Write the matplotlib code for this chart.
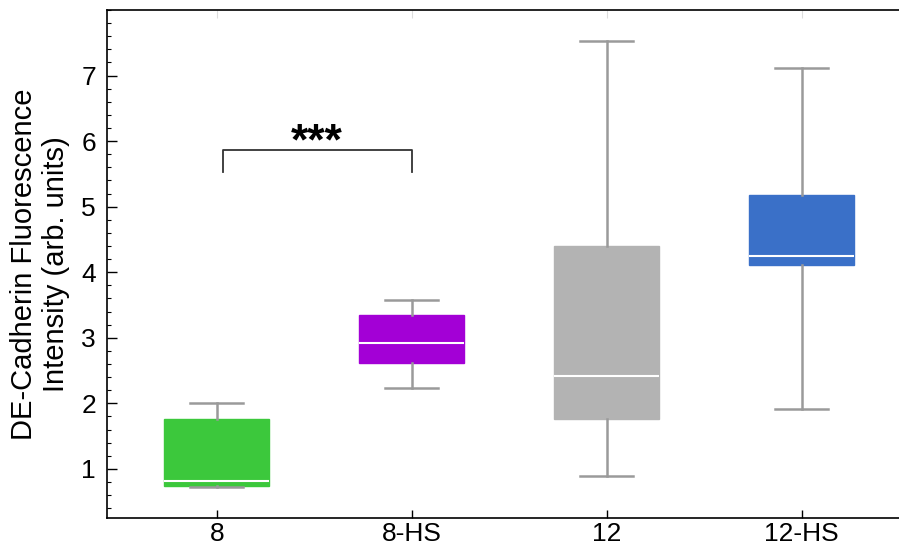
import matplotlib.pyplot as plt
from matplotlib.ticker import MultipleLocator

plt.rcParams['font.family'] = ['Liberation Sans', 'DejaVu Sans']

labels = ["8", "8-HS", "12", "12-HS"]
whislo = [0.73, 2.23, 0.89, 1.92]
q1 = [0.74, 2.61, 1.76, 4.11]
med = [0.81, 2.92, 2.42, 4.24]
q3 = [1.76, 3.34, 4.40, 5.18]
whishi = [2.01, 3.58, 7.53, 7.12]
colors = ["#3cc83c", "#a300d6", "#b3b3b3", "#3a70c8"]

stats = []
for i in range(len(labels)):
    stats.append({"label": labels[i], "whislo": whislo[i], "q1": q1[i], "med": med[i],
                  "q3": q3[i], "whishi": whishi[i], "fliers": []})

fig = plt.figure(figsize=(8.99, 5.48), dpi=100)
ax = fig.add_axes([107 / 899, 30 / 548, 795 / 899, 508 / 548])

bp = ax.bxp(stats, positions=range(4), widths=0.54, patch_artist=True,
            showfliers=False,
            whiskerprops=dict(color="#9a9a9a", linewidth=1.8),
            capprops=dict(color="#9a9a9a", linewidth=1.8),
            medianprops=dict(color="white", linewidth=1.5),
            boxprops=dict(linewidth=1.0))
for patch, c in zip(bp["boxes"], colors):
    patch.set_facecolor(c)
    patch.set_edgecolor(c)

# significance bracket
ax.plot([0.03, 0.03, 1.0, 1.0], [5.53, 5.86, 5.86, 5.53], color="#333333", lw=1.3)
ax.text(0.515, 5.66, "***", ha="center", va="bottom", fontsize=32, fontweight="semibold")

ax.set_xlim(-0.563, 3.514)
ax.set_ylim(0.25, 8.0)
ax.set_xticks(range(4))
ax.set_xticklabels(labels, fontsize=19)
ax.yaxis.set_major_locator(MultipleLocator(1))
ax.yaxis.set_minor_locator(MultipleLocator(0.2))
ax.set_yticks(range(1, 8))
ax.tick_params(axis="y", which="major", direction="in", length=7, labelsize=19, width=1, pad=8)
ax.tick_params(axis="y", which="minor", direction="in", length=3, width=0.8)
ax.tick_params(axis="x", which="major", direction="in", length=6, width=1, pad=3)
ax.set_ylabel("DE-Cadherin Fluorescence\nIntensity (arb. units)", fontsize=21, labelpad=8)
ax.spines["right"].set_visible(False)

# faint category ticks along the top
top = ax.secondary_xaxis("top")
top.set_xticks(range(4))
top.tick_params(direction="in", length=6, color="#dddddd", labeltop=False)

for s in ax.spines.values():
    s.set_linewidth(1.2)
top.spines["top"].set_visible(False)

fig.savefig("out.png", dpi=100)
